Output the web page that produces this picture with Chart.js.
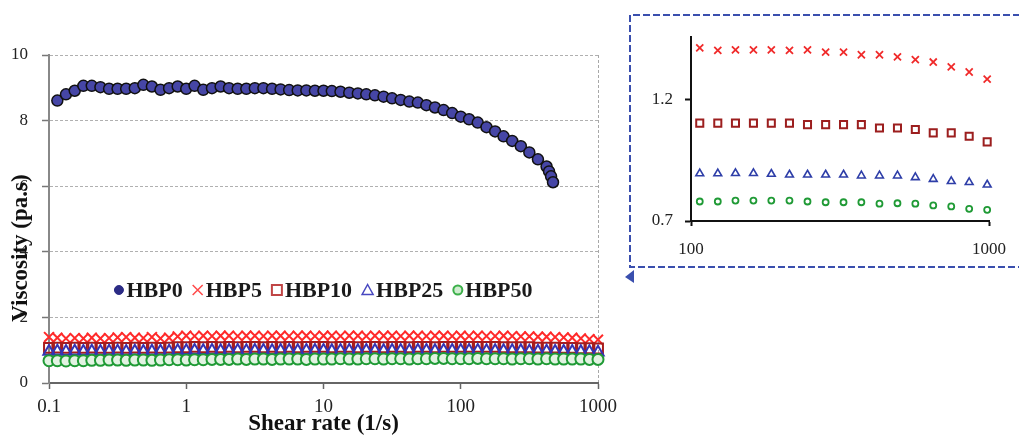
<!DOCTYPE html>
<html>
<head>
<meta charset="utf-8">
<script src="https://cdn.jsdelivr.net/npm/chart.js@4.4.0/dist/chart.umd.min.js"></script>
<style>
  body { margin: 0; background: #fff; overflow: hidden; }
  #wrap { position: relative; width: 1019px; height: 435px; }
  #mainChart { position: absolute; left: 0; top: 0; }
  #frame { position: absolute; left: 0; top: 0; }
  #insetChart { position: absolute; left: 630px; top: 15px; }
</style>
</head>
<body>
<div id="wrap">
  <canvas id="mainChart" width="630" height="435"></canvas>
  <svg id="frame" width="1019" height="435">
    <path d="M1030 15 H630 V267 H1030" fill="none" stroke="#3a4fae" stroke-width="2" stroke-dasharray="7 3"/>
    <path d="M625 277 L634 270 L634 283 Z" fill="#3a4fae"/>
  </svg>
  <canvas id="insetChart" width="389" height="252"></canvas>
</div>
<script>
// main chart data
const shearRate = [
  0.1, 0.115, 0.133, 0.154, 0.178, 0.205, 0.237, 0.274, 0.316, 0.365, 0.422, 0.487, 0.562, 0.649, 0.750, 0.866,
  1, 1.15, 1.33, 1.54, 1.78, 2.05, 2.37, 2.74, 3.16, 3.65, 4.22, 4.87, 5.62, 6.49, 7.50, 8.66,
  10, 11.5, 13.3, 15.4, 17.8, 20.5, 23.7, 27.4, 31.6, 36.5, 42.2, 48.7, 56.2, 64.9, 75.0, 86.6,
  100, 115, 133, 154, 178, 205, 237, 274, 316, 365, 422, 487, 562, 649, 750, 866, 1000
];
const hbp0Rate = [
  0.115, 0.133, 0.154, 0.178, 0.205, 0.237, 0.274, 0.316, 0.365, 0.422, 0.487, 0.562, 0.649, 0.750, 0.866,
  1, 1.15, 1.33, 1.54, 1.78, 2.05, 2.37, 2.74, 3.16, 3.65, 4.22, 4.87, 5.62, 6.49, 7.50, 8.66,
  10, 11.5, 13.3, 15.4, 17.8, 20.5, 23.7, 27.4, 31.6, 36.5, 42.2, 48.7, 56.2, 64.9, 75.0, 86.6,
  100, 115, 133, 154, 178, 205, 237, 274, 316, 365, 422, 440, 455, 470
];
const hbp0 = [
  8.61, 8.80, 8.91, 9.06, 9.06, 9.02, 8.97, 8.97, 8.97, 8.99,
  9.09, 9.04, 8.94, 8.99, 9.04, 8.97, 9.06, 8.94, 8.99, 9.04,
  8.99, 8.97, 8.97, 8.99, 8.99, 8.97, 8.95, 8.93, 8.92, 8.92,
  8.91, 8.91, 8.90, 8.88, 8.85, 8.83, 8.80, 8.77, 8.73, 8.68,
  8.63, 8.58, 8.55, 8.47, 8.40, 8.32, 8.23, 8.12, 8.04, 7.94,
  7.80, 7.67, 7.52, 7.38, 7.22, 7.03, 6.82, 6.60, 6.45, 6.30, 6.12
];
const hbp5 = [
  1.40, 1.38, 1.36, 1.37, 1.36, 1.38, 1.36, 1.37, 1.39, 1.40, 1.38, 1.37, 1.40, 1.36, 1.38, 1.42,
  1.44, 1.43, 1.44, 1.43, 1.44, 1.44, 1.43, 1.44, 1.44, 1.43, 1.44, 1.44, 1.43, 1.44, 1.44, 1.43,
  1.44, 1.44, 1.43, 1.44, 1.44, 1.43, 1.44, 1.44, 1.44, 1.43, 1.44, 1.44, 1.43, 1.44, 1.44, 1.43,
  1.44, 1.43, 1.44, 1.43, 1.43, 1.44, 1.43, 1.42, 1.42, 1.41, 1.41, 1.40, 1.39, 1.38, 1.36, 1.34, 1.32
];
const hbp10 = [
  1.07, 1.08, 1.07, 1.08, 1.07, 1.08, 1.07, 1.07, 1.08, 1.07, 1.08, 1.07, 1.08, 1.07, 1.08, 1.09,
  1.09, 1.10, 1.09, 1.10, 1.09, 1.10, 1.09, 1.10, 1.10, 1.09, 1.10, 1.09, 1.10, 1.09, 1.10, 1.10,
  1.10, 1.09, 1.10, 1.10, 1.09, 1.10, 1.10, 1.09, 1.10, 1.10, 1.09, 1.10, 1.10, 1.09, 1.10, 1.10,
  1.10, 1.10, 1.10, 1.10, 1.10, 1.09, 1.09, 1.09, 1.09, 1.08, 1.08, 1.08, 1.07, 1.07, 1.06, 1.06, 1.05
];
const hbp25 = [
  0.96, 0.97, 0.96, 0.97, 0.96, 0.97, 0.96, 0.97, 0.97, 0.96, 0.97, 0.96, 0.97, 0.97, 0.97, 0.98,
  0.98, 0.99, 0.98, 0.99, 0.98, 0.99, 0.99, 0.98, 0.99, 0.99, 0.98, 0.99, 0.99, 0.98, 0.99, 0.99,
  0.99, 0.98, 0.99, 0.99, 0.98, 0.99, 0.99, 0.98, 0.99, 0.99, 0.98, 0.99, 0.99, 0.98, 0.99, 0.99,
  0.99, 0.99, 0.99, 0.98, 0.98, 0.98, 0.98, 0.98, 0.97, 0.97, 0.97, 0.96, 0.96, 0.96, 0.95, 0.95, 0.94
];
const hbp50 = [
  0.68, 0.68, 0.67, 0.68, 0.68, 0.69, 0.69, 0.70, 0.70, 0.69, 0.70, 0.70, 0.69, 0.70, 0.71, 0.71,
  0.70, 0.71, 0.71, 0.72, 0.72, 0.72, 0.73, 0.72, 0.73, 0.73, 0.72, 0.73, 0.73, 0.73, 0.72, 0.73,
  0.73, 0.73, 0.74, 0.73, 0.73, 0.74, 0.74, 0.73, 0.74, 0.74, 0.73, 0.74, 0.74, 0.75, 0.75, 0.74,
  0.74, 0.74, 0.75, 0.74, 0.74, 0.74, 0.73, 0.74, 0.74, 0.73, 0.74, 0.73, 0.73, 0.73, 0.73, 0.72, 0.72
];
const rateTicks = [0.1, 1, 10, 100, 1000];
const viscTicks = [0, 2, 4, 6, 8, 10];
const seriesNames = ['HBP0', 'HBP5', 'HBP10', 'HBP25', 'HBP50'];

// inset data (100 - 1000 1/s)
const insetRate = [107, 123, 141, 162, 186, 214, 246, 283, 325, 373, 429, 493, 566, 650, 747, 858, 986];
const insetHbp5 = [1.411, 1.401, 1.403, 1.403, 1.403, 1.401, 1.403, 1.394, 1.394, 1.383, 1.383, 1.374, 1.363, 1.353, 1.333, 1.312, 1.283];
const insetHbp10 = [1.102, 1.102, 1.102, 1.102, 1.102, 1.102, 1.096, 1.096, 1.096, 1.096, 1.082, 1.082, 1.076, 1.062, 1.062, 1.048, 1.025];
const insetHbp25 = [0.895, 0.895, 0.896, 0.896, 0.893, 0.890, 0.890, 0.890, 0.890, 0.886, 0.886, 0.886, 0.879, 0.872, 0.863, 0.859, 0.849];
const insetHbp50 = [0.780, 0.780, 0.784, 0.784, 0.784, 0.784, 0.780, 0.777, 0.777, 0.777, 0.771, 0.773, 0.771, 0.764, 0.760, 0.750, 0.746];
const insetRateTicks = [100, 1000];
const insetViscTicks = [0.7, 1.2];

const serif = "'Liberation Serif', 'Times New Roman', serif";

function toPoints(xs, ys) {
  return ys.map((y, i) => ({ x: xs[i], y: y }));
}

const styles = [
  { pointStyle: 'circle', fill: '#4646a6', stroke: '#111', lw: 1.5, r: 5.5 },
  { pointStyle: 'crossRot', fill: 'rgba(0,0,0,0)', stroke: '#ff2a2a', lw: 2, r: 7 },
  { pointStyle: 'rect', fill: 'rgba(0,0,0,0)', stroke: '#a81c1c', lw: 2, r: 7 },
  { pointStyle: 'triangle', fill: 'rgba(0,0,0,0)', stroke: '#3434b4', lw: 2, r: 6.5 },
  { pointStyle: 'circle', fill: '#e2f3e2', stroke: '#1f9a35', lw: 2, r: 5.5 }
];

function drawMarker(ctx, style, x, y, r) {
  ctx.beginPath();
  if (style === 'circle') {
    ctx.arc(x, y, r, 0, Math.PI * 2);
  } else if (style === 'rect') {
    ctx.rect(x - r, y - r, 2 * r, 2 * r);
  } else if (style === 'triangle') {
    ctx.moveTo(x, y - r);
    ctx.lineTo(x + r, y + r * 0.8);
    ctx.lineTo(x - r, y + r * 0.8);
    ctx.closePath();
  } else {
    ctx.moveTo(x - r, y - r); ctx.lineTo(x + r, y + r);
    ctx.moveTo(x + r, y - r); ctx.lineTo(x - r, y + r);
  }
}

// legend inside plot + rotated y title
const mainExtras = {
  id: 'mainExtras',
  afterDraw(chart) {
    const ctx = chart.ctx;
    const area = chart.chartArea;

    ctx.save();
    ctx.translate(21, 248);
    ctx.rotate(-Math.PI / 2);
    ctx.font = 'bold 23px ' + serif;
    ctx.fillStyle = '#111';
    ctx.textAlign = 'center';
    ctx.textBaseline = 'middle';
    ctx.fillText('Viscosity (pa.s)', 0, 0);
    ctx.restore();

    const legendMarks = [
      { style: 'circle', fill: '#2b2b85', stroke: '#2b2b85', lw: 1, r: 4.5 },
      { style: 'cross', fill: 'rgba(0,0,0,0)', stroke: '#ff4a4a', lw: 1.5, r: 5 },
      { style: 'rect', fill: 'rgba(0,0,0,0)', stroke: '#c04545', lw: 2, r: 5 },
      { style: 'triangle', fill: 'rgba(0,0,0,0)', stroke: '#4848c0', lw: 1.5, r: 5.5 },
      { style: 'circle', fill: '#cfeccf', stroke: '#3cb04a', lw: 2, r: 4.5 }
    ];
    ctx.save();
    ctx.font = 'bold 22px ' + serif;
    const widths = seriesNames.map(n => ctx.measureText(n).width);
    let total = 0;
    legendMarks.forEach((m, i) => { total += 2 * m.r + 3 + widths[i]; });
    total += 10 * (seriesNames.length - 1);
    let x = (area.left + area.right) / 2 - total / 2;
    const y = 290;
    legendMarks.forEach((m, i) => {
      ctx.fillStyle = m.fill;
      ctx.strokeStyle = m.stroke;
      ctx.lineWidth = m.lw;
      drawMarker(ctx, m.style, x + m.r, y, m.r);
      ctx.fill();
      ctx.stroke();
      x += 2 * m.r + 3;
      ctx.fillStyle = '#1a1a1a';
      ctx.textBaseline = 'middle';
      ctx.fillText(seriesNames[i], x, y + 1);
      x += widths[i] + 10;
    });
    ctx.restore();
  }
};

const mainSeries = [
  toPoints(hbp0Rate, hbp0),
  toPoints(shearRate, hbp5),
  toPoints(shearRate, hbp10),
  toPoints(shearRate, hbp25),
  toPoints(shearRate, hbp50)
];

new Chart(document.getElementById('mainChart').getContext('2d'), {
  type: 'scatter',
  data: {
    datasets: mainSeries.map((pts, i) => ({
      label: seriesNames[i],
      data: pts,
      order: seriesNames.length - i,
      pointStyle: styles[i].pointStyle,
      pointRadius: styles[i].r,
      pointBackgroundColor: styles[i].fill,
      pointBorderColor: styles[i].stroke,
      pointBorderWidth: styles[i].lw,
      clip: false
    }))
  },
  options: {
    responsive: false,
    animation: false,
    layout: { padding: { top: 55, right: 32, left: 0, bottom: 0 } },
    plugins: { legend: { display: false }, tooltip: { enabled: false } },
    scales: {
      x: {
        type: 'logarithmic',
        min: 0.1,
        max: 1000,
        afterBuildTicks: s => { s.ticks = rateTicks.map(v => ({ value: v })); },
        afterFit: s => { s.height = 52; },
        ticks: {
          callback: v => String(v),
          autoSkip: false,
          maxRotation: 0,
          padding: 7,
          color: '#222',
          font: { family: serif, size: 19 }
        },
        grid: {
          color: c => (c.tick && c.tick.value === 1000) ? '#a8a8a8' : 'rgba(0,0,0,0)',
          tickColor: '#666',
          tickLength: 6,
          tickWidth: 1.5
        },
        border: { color: '#666', width: 2, dash: [3, 2] },
        title: {
          display: true,
          text: 'Shear rate (1/s)',
          color: '#111',
          padding: { top: 0, bottom: -3 },
          font: { family: serif, size: 23, weight: 'bold' }
        }
      },
      y: {
        min: 0,
        max: 10,
        afterBuildTicks: s => { s.ticks = viscTicks.map(v => ({ value: v })); },
        afterFit: s => { s.width = 49; },
        ticks: { padding: 14, color: '#222', font: { family: serif, size: 17 } },
        grid: { color: '#b0b0b0', tickColor: '#777', tickLength: 7, tickWidth: 1.5 },
        border: { color: '#888', width: 2, dash: [3, 2] }
      }
    }
  },
  plugins: [mainExtras]
});

// inset chart
const insetSeries = [
  toPoints(insetRate, insetHbp5),
  toPoints(insetRate, insetHbp10),
  toPoints(insetRate, insetHbp25),
  toPoints(insetRate, insetHbp50)
];
const insetStyles = [
  { pointStyle: 'crossRot', fill: 'rgba(0,0,0,0)', stroke: '#f02a2a', lw: 1.8, r: 5 },
  { pointStyle: 'rect', fill: 'rgba(0,0,0,0)', stroke: '#9c1e1e', lw: 2, r: 5 },
  { pointStyle: 'triangle', fill: 'rgba(0,0,0,0)', stroke: '#2e3ea8', lw: 1.6, r: 4.5 },
  { pointStyle: 'circle', fill: 'rgba(0,0,0,0)', stroke: '#1f9a35', lw: 1.8, r: 3 }
];

new Chart(document.getElementById('insetChart').getContext('2d'), {
  type: 'scatter',
  data: {
    datasets: insetSeries.map((pts, i) => ({
      label: seriesNames[i + 1],
      data: pts,
      pointStyle: insetStyles[i].pointStyle,
      pointRadius: insetStyles[i].r,
      pointBackgroundColor: insetStyles[i].fill,
      pointBorderColor: insetStyles[i].stroke,
      pointBorderWidth: insetStyles[i].lw,
      clip: false
    }))
  },
  options: {
    responsive: false,
    animation: false,
    layout: { padding: { top: 20, right: 19, left: 0, bottom: 0 } },
    plugins: { legend: { display: false }, tooltip: { enabled: false } },
    scales: {
      x: {
        type: 'logarithmic',
        min: 100,
        max: 1000,
        afterBuildTicks: s => { s.ticks = insetRateTicks.map(v => ({ value: v })); },
        afterFit: s => { s.height = 46; },
        ticks: {
          callback: v => String(v),
          autoSkip: false,
          maxRotation: 0,
          padding: 13,
          color: '#222',
          font: { family: serif, size: 17 }
        },
        grid: { drawOnChartArea: false, tickColor: '#111', tickLength: 5, tickWidth: 2 },
        border: { color: '#111', width: 2 }
      },
      y: {
        min: 0.7,
        max: 1.455,
        afterBuildTicks: s => { s.ticks = insetViscTicks.map(v => ({ value: v })); },
        afterFit: s => { s.width = 61; },
        ticks: {
          callback: v => v.toFixed(1),
          padding: 12,
          color: '#222',
          font: { family: serif, size: 17 }
        },
        grid: { drawOnChartArea: false, tickColor: '#111', tickLength: 6, tickWidth: 2 },
        border: { color: '#111', width: 2 }
      }
    }
  }
});
</script>
</body>
</html>
